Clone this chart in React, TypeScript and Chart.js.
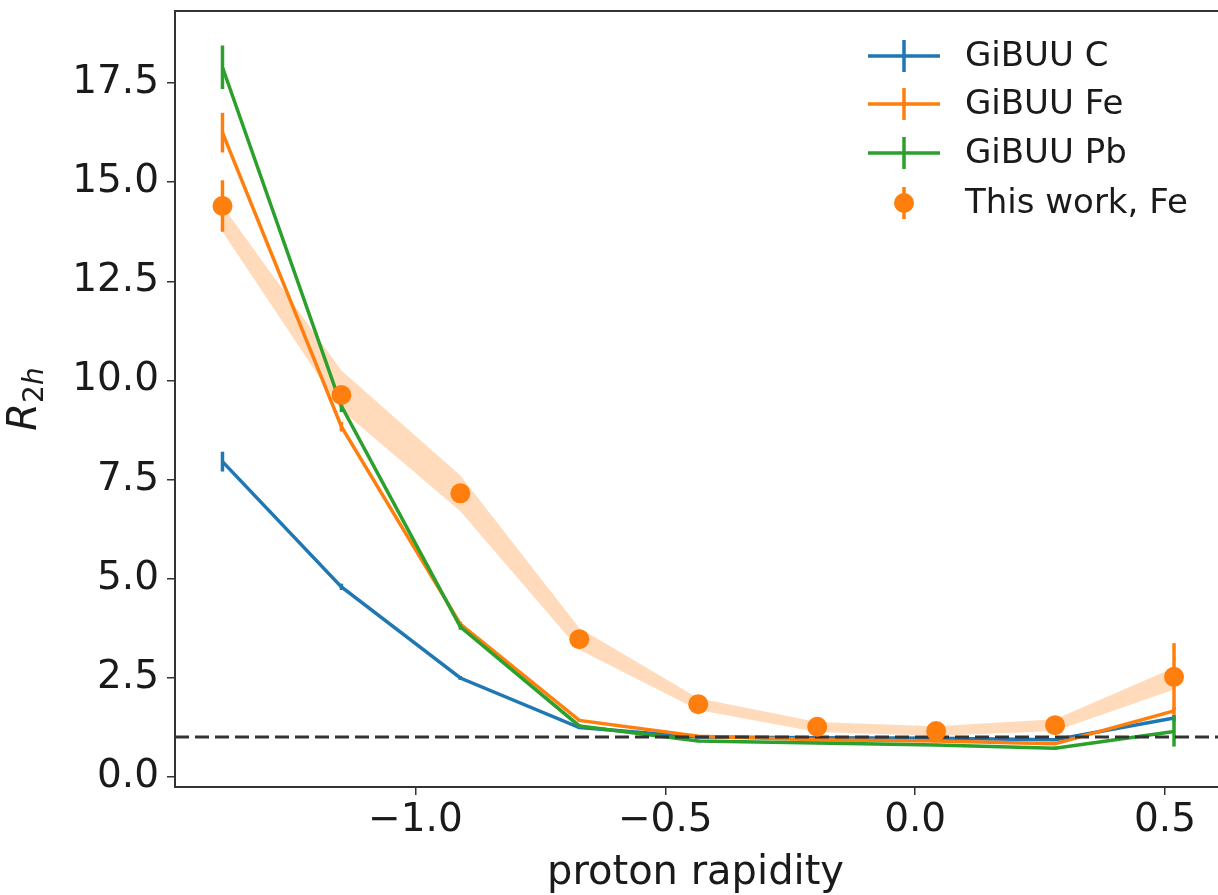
import React, { useEffect, useRef } from "react";
import { Chart, registerables } from "chart.js";

Chart.register(...registerables);

// ---- data ----
const rapidity = [-1.386, -1.148, -0.91, -0.672, -0.434, -0.196, 0.042, 0.28, 0.518];
const gibuuC = [7.95, 4.79, 2.49, 1.24, 1.0, 0.98, 0.97, 0.93, 1.48];
const gibuuCErr = [0.25, 0.08, 0.05, 0.03, 0.02, 0.02, 0.02, 0.03, 0.08];
const gibuuFe = [16.25, 8.83, 3.85, 1.42, 1.02, 0.93, 0.9, 0.83, 1.66];
const gibuuFeErr = [0.5, 0.12, 0.06, 0.04, 0.03, 0.03, 0.03, 0.03, 0.1];
const gibuuPb = [17.9, 9.35, 3.78, 1.28, 0.9, 0.85, 0.8, 0.72, 1.14];
const gibuuPbErr = [0.55, 0.15, 0.07, 0.04, 0.03, 0.03, 0.03, 0.04, 0.38];
const thisWorkFe = [14.4, 9.63, 7.15, 3.47, 1.83, 1.26, 1.15, 1.3, 2.52];
const thisWorkFeErr = [0.65, 0.2, 0.15, 0.12, 0.1, 0.08, 0.08, 0.1, 0.85];
const sysLow = [13.75, 9.25, 6.7, 3.2, 1.68, 1.13, 1.03, 1.15, 2.2];
const sysHigh = [14.4, 10.25, 7.6, 3.75, 1.98, 1.38, 1.27, 1.45, 2.75];
const referenceLevel = 1.0;
const xTicks = [-1.0, -0.5, 0.0, 0.5];
const yTicks = [0, 2.5, 5, 7.5, 10, 12.5, 15, 17.5];
const legendLabels = ["GiBUU C", "GiBUU Fe", "GiBUU Pb", "This work, Fe"];

const X_MIN = -1.481;
const X_MAX = 0.606;
const Y_MIN = -0.26;
const Y_MAX = 19.32;

const BLUE = "#1f77b4";
const ORANGE = "#ff7f0e";
const GREEN = "#2ca02c";
const FONT = "'DejaVu Sans', sans-serif";
const TEXT = "#1a1a1a";

const pts = (ys: number[]) => ys.map((y, i) => ({ x: rapidity[i], y }));

const errorBarPlugin = {
  id: "errbars",
  beforeDatasetDraw(chart: any, args: any) {
    const ds = chart.data.datasets[args.index];
    if (ds.errors && ds.errLayer === "before") drawErr(chart, ds);
  },
  afterDatasetDraw(chart: any, args: any) {
    const ds = chart.data.datasets[args.index];
    if (ds.errors && ds.errLayer !== "before") drawErr(chart, ds);
  },
};

function drawErr(chart: any, ds: any) {
  const ctx = chart.ctx;
  const xs = chart.scales.x;
  const ys = chart.scales.y;
  ctx.save();
  ctx.strokeStyle = ds.errColor;
  ctx.lineWidth = 3.5;
  ds.data.forEach((p: any, i: number) => {
    const e = ds.errors[i];
    const px = xs.getPixelForValue(p.x);
    ctx.beginPath();
    ctx.moveTo(px, ys.getPixelForValue(p.y + e));
    ctx.lineTo(px, ys.getPixelForValue(p.y - e));
    ctx.stroke();
  });
  ctx.restore();
}

const decorPlugin = {
  id: "decor",
  afterDraw(chart: any) {
    const ctx = chart.ctx;
    const a = chart.chartArea;
    ctx.save();
    // top frame
    ctx.strokeStyle = "#333";
    ctx.lineWidth = 2;
    ctx.beginPath();
    ctx.moveTo(a.left, a.top);
    ctx.lineTo(a.right + 2, a.top);
    ctx.stroke();

    // legend
    const colors = [BLUE, ORANGE, GREEN, ORANGE];
    const rowY = [56, 104, 153, 203];
    const lx0 = 868, lx1 = 940, lxc = 904, tx = 965;
    ctx.font = `34px ${FONT}`;
    ctx.textBaseline = "middle";
    ctx.textAlign = "left";
    for (let i = 0; i < 4; i++) {
      const y = rowY[i];
      ctx.strokeStyle = colors[i];
      ctx.fillStyle = colors[i];
      ctx.lineWidth = 3.5;
      if (i < 3) {
        ctx.beginPath();
        ctx.moveTo(lx0, y);
        ctx.lineTo(lx1, y);
        ctx.moveTo(lxc, y - 16);
        ctx.lineTo(lxc, y + 16);
        ctx.stroke();
      } else {
        ctx.beginPath();
        ctx.moveTo(lxc, y - 16);
        ctx.lineTo(lxc, y + 16);
        ctx.stroke();
        ctx.beginPath();
        ctx.arc(lxc, y, 10, 0, Math.PI * 2);
        ctx.fill();
      }
      ctx.fillStyle = TEXT;
      ctx.fillText(legendLabels[i], tx, y + 1);
    }

    // x label
    ctx.fillStyle = TEXT;
    ctx.font = `40px ${FONT}`;
    ctx.textAlign = "center";
    ctx.textBaseline = "alphabetic";
    ctx.fillText("proton rapidity", (a.left + a.right) / 2 - 1, 884);

    // y label R_{2h}
    ctx.save();
    ctx.translate(36, (a.top + a.bottom) / 2);
    ctx.rotate(-Math.PI / 2);
    ctx.font = `italic 40px ${FONT}`;
    const wR = ctx.measureText("R").width;
    ctx.font = `28px ${FONT}`;
    const w2 = ctx.measureText("2").width;
    ctx.font = `italic 28px ${FONT}`;
    const wh = ctx.measureText("h").width;
    const total = wR + w2 + wh;
    let x = -total / 2;
    ctx.textAlign = "left";
    ctx.font = `italic 40px ${FONT}`;
    ctx.fillText("R", x, 0);
    x += wR;
    ctx.font = `28px ${FONT}`;
    ctx.fillText("2", x, 7);
    x += w2;
    ctx.font = `italic 28px ${FONT}`;
    ctx.fillText("h", x, 7);
    ctx.restore();
    ctx.restore();
  },
};

export default function App() {
  const ref = useRef<HTMLCanvasElement | null>(null);
  useEffect(() => {
    if (!ref.current) return;
    const chart = new Chart(ref.current, {
      type: "line",
      data: {
        datasets: [
          {
            label: "sysLow",
            data: pts(sysLow),
            borderWidth: 0,
            pointRadius: 0,
            fill: false,
            order: 10,
          },
          {
            label: "sysHigh",
            data: pts(sysHigh),
            borderWidth: 0,
            pointRadius: 0,
            fill: "-1",
            backgroundColor: "rgba(255,127,14,0.28)",
            order: 9,
          },
          {
            label: legendLabels[0],
            data: pts(gibuuC),
            borderColor: BLUE,
            borderWidth: 3.5,
            pointRadius: 0,
            fill: false,
            order: 5,
            errors: gibuuCErr,
            errColor: BLUE,
          } as any,
          {
            label: legendLabels[1],
            data: pts(gibuuFe),
            borderColor: ORANGE,
            borderWidth: 3.5,
            pointRadius: 0,
            fill: false,
            order: 4,
            errors: gibuuFeErr,
            errColor: ORANGE,
          } as any,
          {
            label: legendLabels[2],
            data: pts(gibuuPb),
            borderColor: GREEN,
            borderWidth: 3.5,
            pointRadius: 0,
            fill: false,
            order: 3,
            errors: gibuuPbErr,
            errColor: GREEN,
          } as any,
          {
            label: "ref",
            data: [
              { x: X_MIN, y: referenceLevel },
              { x: X_MAX, y: referenceLevel },
            ],
            borderColor: "#333",
            borderWidth: 3,
            borderDash: [14, 6],
            pointRadius: 0,
            fill: false,
            order: 2,
          },
          {
            label: legendLabels[3],
            data: pts(thisWorkFe),
            showLine: false,
            pointRadius: 10,
            pointBackgroundColor: ORANGE,
            pointBorderColor: ORANGE,
            pointBorderWidth: 0,
            order: 1,
            errors: thisWorkFeErr,
            errColor: ORANGE,
            errLayer: "before",
          } as any,
        ],
      },
      options: {
        animation: false,
        responsive: true,
        maintainAspectRatio: false,
        layout: { autoPadding: false, padding: { top: 11, right: 0, left: 0, bottom: 0 } },
        plugins: { legend: { display: false }, tooltip: { enabled: false } },
        scales: {
          x: {
            type: "linear",
            min: X_MIN,
            max: X_MAX,
            afterBuildTicks: (s: any) => {
              s.ticks = xTicks.map((v) => ({ value: v }));
            },
            afterFit: (s: any) => {
              s.height = 108;
              s.paddingLeft = 0;
              s.paddingRight = 0;
            },
            ticks: {
              font: { family: FONT, size: 39 },
              color: TEXT,
              padding: 2,
              maxRotation: 0,
              autoSkip: false,
              callback: (v: any) => Number(v).toFixed(1).replace("-", "\u2212"),
            },
            grid: { drawOnChartArea: false, drawTicks: true, tickLength: 8, color: "#333", lineWidth: 1.5 },
            border: { display: true, color: "#333", width: 2 },
          },
          y: {
            type: "linear",
            min: Y_MIN,
            max: Y_MAX,
            afterBuildTicks: (s: any) => {
              s.ticks = yTicks.map((v) => ({ value: v }));
            },
            afterFit: (s: any) => {
              s.width = 175;
              s.paddingTop = 0;
              s.paddingBottom = 0;
            },
            ticks: {
              font: { family: FONT, size: 39 },
              color: TEXT,
              padding: 8,
              autoSkip: false,
              callback: (v: any) => Number(v).toFixed(1),
            },
            grid: { drawOnChartArea: false, drawTicks: true, tickLength: 8, color: "#333", lineWidth: 1.5 },
            border: { display: true, color: "#333", width: 2 },
          },
        },
      },
      plugins: [errorBarPlugin, decorPlugin],
    } as any);
    return () => chart.destroy();
  }, []);
  return (
    <div style={{ position: "fixed", left: 0, top: 0, width: 1218, height: 895, background: "#fff" }}>
      <canvas ref={ref} />
    </div>
  );
}
